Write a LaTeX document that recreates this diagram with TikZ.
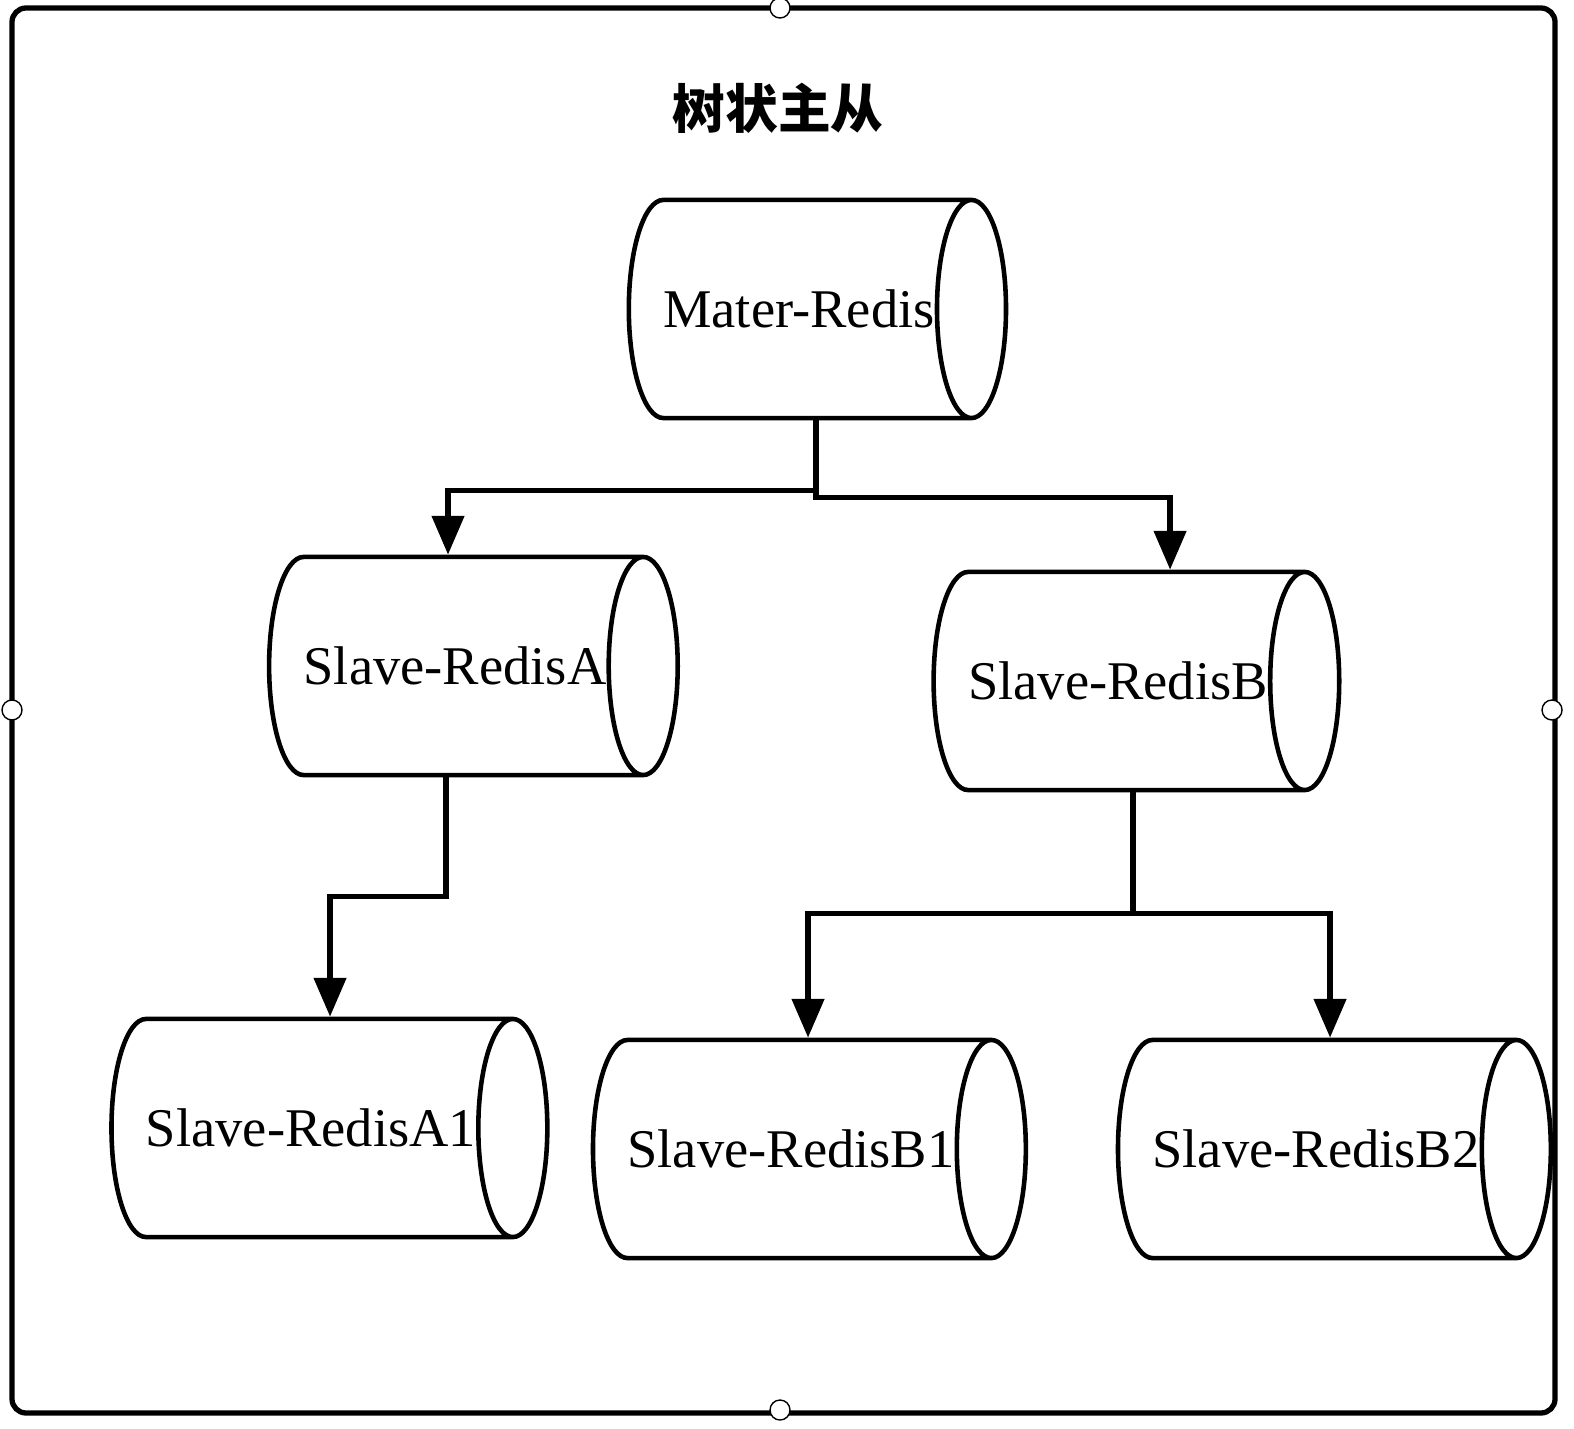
\documentclass[tikz,border=0pt]{standalone}
\usepackage{fontspec}
\setmainfont{Liberation Serif}
\newfontfamily\cjk{Noto Sans CJK SC}
\usetikzlibrary{shapes.geometric,arrows.meta}

\begin{document}
\begin{tikzpicture}[x=0.01cm,y=-0.01cm,
  db/.style={cylinder,shape border rotate=0,draw,line width=1.3pt,shape aspect=1.8,
    minimum height=2.93cm,minimum width=2.18cm,inner sep=0pt,font=\fontsize{15.5}{15.5}\selectfont},
  link/.style={line width=1.5pt,-{Triangle[length=11pt,width=9pt]}},
  handle/.style={circle,draw,fill=white,inner sep=0pt,minimum size=0.2cm}]
\useasboundingbox (0,0) rectangle (1574,1428);
\draw[line width=1.5pt,rounded corners=4pt] (12,8) rectangle (1555,1413);
\node[handle] (h1) at (780,8) {};
\node[handle] (h2) at (12,710) {};
\node[handle] (h3) at (1552,710) {};
\node[handle] (h4) at (780,1410) {};

\node[font=\cjk\bfseries\fontsize{15}{15}\selectfont] (title) at (778,108) {树状主从};

\node[db]   (M)  at (799,309)  {Mater-Redis};
\node[db,minimum height=2.9cm]   (A)  at (455,666)  {Slave-RedisA};
\node[db,minimum height=3.24cm]  (B)  at (1118,681) {Slave-RedisB};
\node[db,minimum height=3.1cm]   (A1) at (311,1128) {Slave-RedisA1};
\node[db,minimum height=3.1cm]   (B1) at (791,1149) {Slave-RedisB1};
\node[db,minimum height=3.17cm]  (B2) at (1316,1149) {Slave-RedisB2};

\draw[link] ([xshift=0.17cm]M.south) -- ++(0,70) -| ([xshift=-0.07cm]A.north);
\draw[link] ([xshift=0.17cm]M.south) -- ++(0,77) -| ([xshift=0.52cm]B.north);
\draw[link] ([xshift=-0.09cm]A.south) -- ++(0,119) -| ([xshift=0.19cm]A1.north);
\draw[link] ([xshift=0.15cm]B.south) -- ++(0,121) -| ([xshift=0.17cm]B1.north);
\draw[link] ([xshift=0.15cm]B.south) -- ++(0,121) -| ([xshift=0.14cm]B2.north);
\end{tikzpicture}
\end{document}
